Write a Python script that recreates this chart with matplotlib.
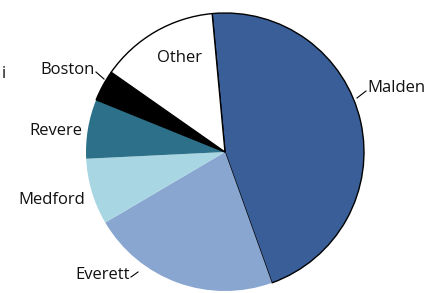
import matplotlib.pyplot as plt

# share of each city (percent), clockwise from the top
cities = ["Malden", "Everett", "Medford", "Revere", "Boston", "Other"]
shares = [46.0, 22.0, 7.7, 6.9, 3.6, 13.8]
colors = ["#3a5f98", "#88a6d0", "#a9d6e3", "#2c7189", "#000000", "#ffffff"]
edges = ["black", "none", "none", "none", "black", "black"]

W, H = 439, 293
fig = plt.figure(figsize=(W / 100, H / 100), dpi=100)
ax = fig.add_axes([0, 0, 1, 1])

wedges, _ = ax.pie(shares, colors=colors, startangle=95.3, counterclock=False,
                   center=(225, H - 152), radius=139, frame=True)
for w, ec in zip(wedges, edges):
    w.set_edgecolor(ec)
    w.set_linewidth(1.0)
ax.set_xlim(0, W)
ax.set_ylim(0, H)
ax.set_aspect("equal")
ax.axis("off")

font = dict(family=["Open Sans", "DejaVu Sans"], fontsize=12, color="#111111")

# label text and leader lines (pixel coords, y measured from top)
def label(txt, x, y, ha, line=None):
    ax.text(x, H - y, txt, ha=ha, va="center", **font)
    if line:
        (x0, y0), (x1, y1) = line
        ax.plot([x0, x1], [H - y0, H - y1], color="black", lw=0.8)

label("Malden", 367, 88, "left", ((357, 98), (366, 91)))
label("Other", 180, 58, "center")
label("Boston", 95, 70, "right", ((96, 72), (104, 79)))
label("Revere", 82, 131, "right")
label("Medford", 85, 200, "right")
label("Everett", 130, 275, "right", ((131, 277), (138, 272)))
label("i", 2, 74, "left")

fig.savefig("out.png", dpi=100)
